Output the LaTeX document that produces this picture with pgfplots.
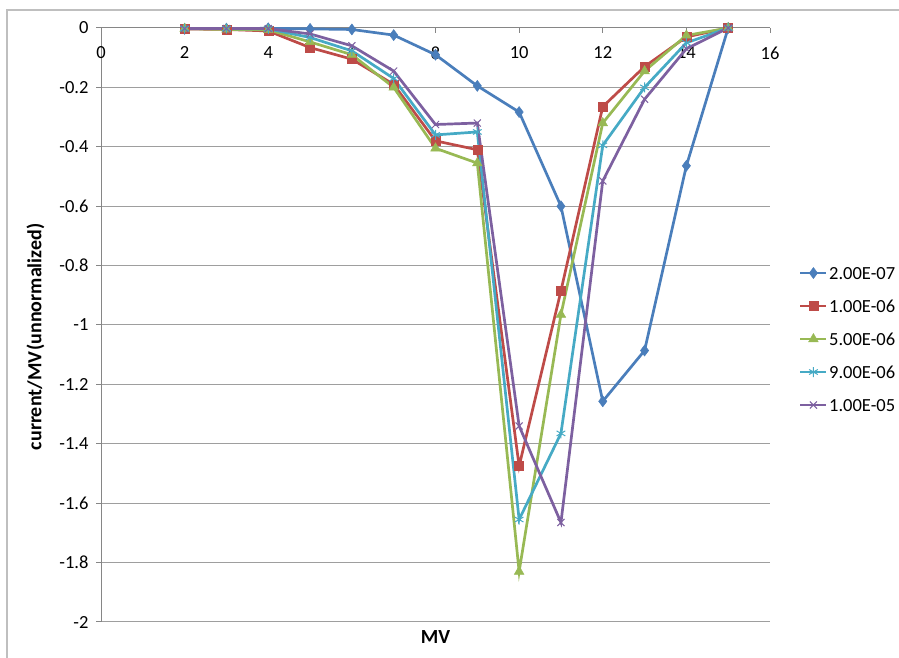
\documentclass[border=0pt]{standalone}
\usepackage{pgfplots}
\pgfplotsset{compat=1.18}
\usepackage{fontspec}
\setmainfont{Carlito}
\definecolor{sblue}{HTML}{4A7EBB}
\definecolor{sred}{HTML}{BE4B48}
\definecolor{sgreen}{HTML}{98B954}
\definecolor{scyan}{HTML}{46AAC5}
\definecolor{spurple}{HTML}{7D60A0}
\definecolor{axgray}{HTML}{868686}
\begin{document}
\begin{tikzpicture}[x=1pt,y=1pt]
\path[use as bounding box] (0,0) rectangle (899,658);
\draw[color=black!25, line width=1.5pt] (7,0) -- (7,648) -- (899,648);
\begin{axis}[
  at={(101pt,36pt)}, anchor=south west,
  scale only axis, width=669pt, height=594pt,
  xmin=0, xmax=16, ymin=-2, ymax=0,
  axis x line=middle, axis y line=left,
  axis line style={color=axgray, line width=1pt, -},
  hide obscured x ticks=false, hide obscured y ticks=false,
  xtick={0,2,...,16}, ytick={-2,-1.8,...,0},
  yticklabels={-2,-1.8,-1.6,-1.4,-1.2,-1,-0.8,-0.6,-0.4,-0.2,0},
  xticklabels={0,2,4,6,8,10,12,14,16},
  tick align=outside, major tick length=5pt,
  tick style={color=axgray, line width=1pt},
  ymajorgrids, grid style={color=axgray!80, line width=1pt},
  every tick label/.append style={font=\fontsize{18.5}{22}\selectfont, text=black},
  xticklabel style={yshift=-10pt},
  yticklabel style={xshift=-4pt},
  xlabel={\textbf{MV}}, ylabel={\textbf{current/MV\kern1pt(unnormalized)}},
  every axis x label/.style={at={(rel axis cs:0.5,-0.025)}, anchor=center, font=\fontsize{20}{24}\selectfont},
  every axis y label/.style={at={(rel axis cs:-0.098,0.48)}, rotate=90, anchor=center, font=\fontsize{20}{24}\selectfont},
  legend style={at={(rel axis cs:1.0433,0.4764)}, anchor=west, draw=none, fill=none,
    font=\fontsize{18.5}{22}\selectfont, row sep=17pt, inner sep=0pt,
    nodes={inner sep=1.5pt, text height=13pt, text depth=0pt}},
  legend image code/.code={\draw[mark repeat=2, mark phase=2, line width=2.5pt, #1] plot coordinates {(0pt,0pt) (13pt,0pt) (26pt,0pt)};},
  legend cell align=left,
  every axis plot/.append style={line width=2.7pt},
  clip=false,
]
\addplot[color=sblue, mark=diamond*, mark size=5.5pt, mark options={line width=0.5pt}] coordinates {
(2,-0.003) (3,-0.002) (4,-0.001) (5,-0.003) (6,-0.005) (7,-0.024) (8,-0.09) (9,-0.195) (10,-0.283) (11,-0.60) (12,-1.257) (13,-1.086) (14,-0.464) (15,0)};
\addlegendentry{2.00E-07}
\addplot[color=sred, mark=square*, mark size=4.5pt, mark options={line width=0.5pt}] coordinates {
(2,-0.003) (3,-0.005) (4,-0.01) (5,-0.066) (6,-0.105) (7,-0.19) (8,-0.38) (9,-0.41) (10,-1.475) (11,-0.885) (12,-0.265) (13,-0.13) (14,-0.03) (15,0)};
\addlegendentry{1.00E-06}
\addplot[color=sgreen, mark=triangle*, mark size=5.5pt, mark options={line width=0.5pt}] coordinates {
(2,-0.002) (3,-0.005) (4,-0.006) (5,-0.047) (6,-0.09) (7,-0.2) (8,-0.405) (9,-0.455) (10,-1.83) (11,-0.965) (12,-0.32) (13,-0.145) (14,-0.025) (15,0)};
\addlegendentry{5.00E-06}
\addplot[color=scyan, mark=asterisk, mark size=5pt, mark options={line width=1pt}] coordinates {
(2,-0.002) (3,-0.002) (4,-0.003) (5,-0.032) (6,-0.077) (7,-0.17) (8,-0.36) (9,-0.35) (10,-1.655) (11,-1.365) (12,-0.395) (13,-0.2) (14,-0.05) (15,0)};
\addlegendentry{9.00E-06}
\addplot[color=spurple, mark=x, mark size=5pt, mark options={line width=1pt}] coordinates {
(2,-0.002) (3,-0.002) (4,-0.002) (5,-0.02) (6,-0.06) (7,-0.145) (8,-0.325) (9,-0.32) (10,-1.34) (11,-1.665) (12,-0.515) (13,-0.24) (14,-0.07) (15,0)};
\addlegendentry{1.00E-05}
\end{axis}
\end{tikzpicture}
\end{document}
